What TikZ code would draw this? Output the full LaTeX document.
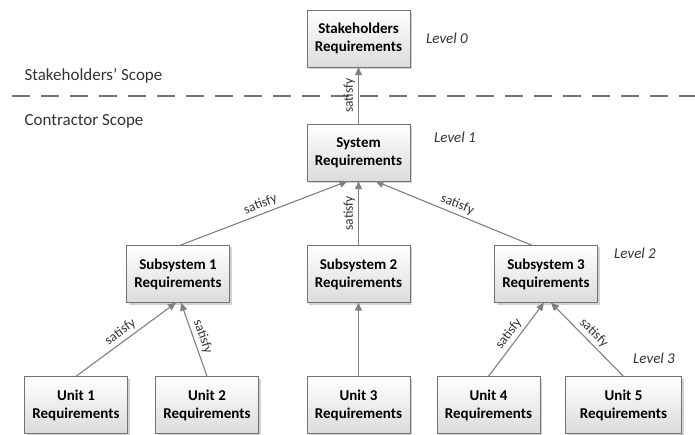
\documentclass[tikz,border=0pt]{standalone}
\usepackage{fontspec}
\setmainfont{Carlito}
\usetikzlibrary{arrows.meta,shadows}

\tikzset{
  reqbox/.style={draw=black!55, top color=white, bottom color=black!14,
    drop shadow={shadow xshift=2pt,shadow yshift=-2pt,fill=black!35},
    minimum width=103pt, minimum height=57pt, align=center, inner sep=2pt,
    font=\fontsize{15}{18}\selectfont\bfseries},
  sat/.style={draw=black!50, line width=1.1pt, -{Triangle[length=8pt,width=7pt]}},
  satlbl/.style={sloped, above, inner sep=3pt, text=black!80,
    font=\fontsize{13.5}{15}\selectfont},
  lvl/.style={text=black!80, font=\fontsize{15}{18}\selectfont\itshape},
  scope/.style={anchor=west, text=black!80, font=\fontsize{17}{20}\selectfont}
}

\begin{document}
\begin{tikzpicture}[x=1pt,y=-1pt]
  \useasboundingbox (0,0) rectangle (695,435);

  % scope border
  \draw[black!55, line width=2.5pt, dash pattern=on 18pt off 11pt] (12,96) -- (695,96);
  \node[scope] (stkscope) at (21,76) {Stakeholders’ Scope};
  \node[scope] (conscope) at (21,121) {Contractor Scope};

  % requirement boxes
  \node[reqbox] (stk) at (358.5,38.5) {Stakeholders\\Requirements};
  \node[reqbox] (sys) at (358.5,152.5) {System\\Requirements};
  \node[reqbox] (s1) at (178,274) {Subsystem 1\\Requirements};
  \node[reqbox] (s2) at (358.5,274) {Subsystem 2\\Requirements};
  \node[reqbox] (s3) at (546,274) {Subsystem 3\\Requirements};
  \node[reqbox] (u1) at (76,405) {Unit 1\\Requirements};
  \node[reqbox] (u2) at (207,405) {Unit 2\\Requirements};
  \node[reqbox] (u3) at (358.5,405) {Unit 3\\Requirements};
  \node[reqbox] (u4) at (488.5,405) {Unit 4\\Requirements};
  \node[reqbox, minimum width=116pt] (u5) at (623.5,405) {Unit 5\\Requirements};

  % levels
  \node[lvl] (lvl0) at (447,38) {Level 0};
  \node[lvl] (lvl1) at (455,137) {Level 1};
  \node[lvl] (lvl2) at (635,253) {Level 2};
  \node[lvl] (lvl3) at (654,358) {Level 3};

  % satisfy links
  \draw[sat] (sys.north) -- node[satlbl] {satisfy} (stk.south);
  \draw[sat] ([xshift=2pt]s1.north) -- node[satlbl] {satisfy} ([xshift=-11pt]sys.south);
  \draw[sat] (s2.north) -- node[satlbl] {satisfy} (sys.south);
  \draw[sat] ([xshift=-14pt]s3.north) -- node[satlbl] {satisfy} ([xshift=17pt]sys.south);
  \draw[sat] (u1.north) -- node[satlbl] {satisfy} ([xshift=-2pt]s1.south);
  \draw[sat] (u2.north) -- node[satlbl] {satisfy} ([xshift=3pt]s1.south);
  \draw[sat] (u3.north) -- (s2.south);
  \draw[sat] (u4.north) -- node[satlbl] {satisfy} ([xshift=-2pt]s3.south);
  \draw[sat] (u5.north) -- node[satlbl] {satisfy} ([xshift=5pt]s3.south);
\end{tikzpicture}
\end{document}
